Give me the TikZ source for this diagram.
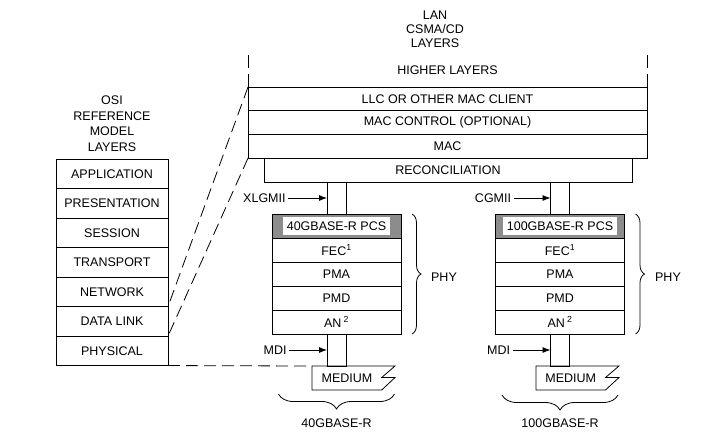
\documentclass[tikz,border=0pt]{standalone}
\usepackage{fontspec}
\setmainfont{Liberation Sans}
\usepackage{tikz}
\usetikzlibrary{calc,positioning,arrows.meta,decorations.pathreplacing}

\begin{document}
\begin{tikzpicture}[x=1pt,y=-1pt,line width=0.8pt,
		font=\fontsize{12.5}{15.5}\selectfont,
		layer/.style={draw,minimum height=24pt,inner sep=0pt,outer sep=0pt},
		osirow/.style={layer,minimum width=112pt,minimum height=29.5pt},
		lanrow/.style={layer,minimum width=399pt,minimum height=23.7pt},
		phyrow/.style={layer,minimum width=129pt},
		pipe/.style={draw,minimum width=19pt,minimum height=32pt,inner sep=0pt,outer sep=0pt},
		lbl/.style={inner sep=2pt},
		dashline/.style={dash pattern=on 12pt off 6pt},
		>={Latex[length=8pt,width=6pt]}]
		
		\useasboundingbox (0,0) rectangle (714,440);
		
		\begin{scope}
			
			\node at (112,123.5)[align=center] (osititle) {OSI\\REFERENCE\\MODEL\\LAYERS};
			
			\node at (112,173.8)[osirow] (app) {APPLICATION};
			\node[osirow,below=0pt of app] (pres) {PRESENTATION};
			\node[osirow,below=0pt of pres] (sess) {SESSION};
			\node[osirow,below=0pt of sess] (trans) {TRANSPORT};
			\node[osirow,below=0pt of trans] (net) {NETWORK};
			\node[osirow,below=0pt of net] (dlink) {DATA LINK};
			\node[osirow,below=0pt of dlink] (phys) {PHYSICAL};
		\end{scope}
		
		\begin{scope}
			
			\node at (435,29)[align=center,font=\fontsize{12.5}{14}\selectfont] (lantitle) {LAN\\CSMA/CD\\LAYERS};
			\node at (447.5,70) (higher) {HIGHER LAYERS};
			
			\node at (447.5,98.85)[lanrow] (llc) {LLC OR OTHER MAC CLIENT};
			\node[lanrow,below=0pt of llc] (macctl) {MAC CONTROL (OPTIONAL)};
			\node[lanrow,below=0pt of macctl] (mac) {MAC};
			\node[layer,minimum width=368pt,below=0pt of mac,xshift=0.5pt] (recon) {RECONCILIATION};
			
			\draw[dash pattern=on 13pt off 6pt] (llc.north west) -- ++(0,-33);
			\draw[dash pattern=on 13pt off 6pt] (llc.north east) -- ++(0,-33);
		\end{scope}
		
		\begin{scope}[xshift=336.5pt,name prefix=a-]
			
			\node at (0,198)[pipe] (mii) {};
			\node[lbl,left=39pt of mii] (miilbl) {XLGMII};
			\draw[->] (miilbl) -- (mii);
			
			\node at (0,226)[phyrow,fill=black!45] (pcs) {};
			\node at (pcs)[fill=white,minimum height=17.5pt,inner xsep=4pt,inner ysep=0pt] (pcstext) {40GBASE-R PCS};
			\node[phyrow,below=0pt of pcs] (fec) {FEC\textsuperscript{1}};
			\node[phyrow,below=0pt of fec] (pma) {PMA};
			\node[phyrow,below=0pt of pma] (pmd) {PMD};
			\node[phyrow,below=0pt of pmd] (an) {AN\,\textsuperscript{2}};
			
			\draw[decorate,decoration={brace,amplitude=9pt}] ($(pcs.north east)+(11,0)$) -- ($(an.south east)+(11,0)$);
			\node at (107.5,277) (phy) {PHY};
			
			\node[pipe,below=0pt of an] (mdi) {};
			\node[lbl,left=38pt of mdi] (mdilbl) {MDI};
			\draw[->] (mdilbl) -- (mdi);
			
			\draw (-24.5,366) coordinate (medtl) -- (58.5,366) -- (45.2,377.5) -- (58.5,377.5) -- (45.2,390) -- (-24.5,390) -- cycle;
			\node at (10.5,378) (medium) {MEDIUM};
			
			\draw[decorate,decoration={brace,amplitude=15pt}] (58,394) -- (-58,394);
			\node at (0,423) (std) {40GBASE-R};
		\end{scope}
		
		\begin{scope}[xshift=560pt,name prefix=b-]
			
			\node at (0,198)[pipe] (mii) {};
			\node[lbl,left=37pt of mii] (miilbl) {CGMII};
			\draw[->] (miilbl) -- (mii);
			
			\node at (0,226)[phyrow,fill=black!45] (pcs) {};
			\node at (pcs)[fill=white,minimum height=17.5pt,inner xsep=4pt,inner ysep=0pt] (pcstext) {100GBASE-R PCS};
			\node[phyrow,below=0pt of pcs] (fec) {FEC\textsuperscript{1}};
			\node[phyrow,below=0pt of fec] (pma) {PMA};
			\node[phyrow,below=0pt of pma] (pmd) {PMD};
			\node[phyrow,below=0pt of pmd] (an) {AN\,\textsuperscript{2}};
			
			\draw[decorate,decoration={brace,amplitude=9pt}] ($(pcs.north east)+(11,0)$) -- ($(an.south east)+(11,0)$);
			\node at (108,277) (phy) {PHY};
			
			\node[pipe,below=0pt of an] (mdi) {};
			\node[lbl,left=38pt of mdi] (mdilbl) {MDI};
			\draw[->] (mdilbl) -- (mdi);
			
			\draw (-24,366) coordinate (medtl) -- (59,366) -- (45.5,377.5) -- (59,377.5) -- (45.5,390) -- (-24,390) -- cycle;
			\node at (10.8,378) (medium) {MEDIUM};
			
			\draw[decorate,decoration={brace,amplitude=15pt}] (58,395) -- (-58,395);
			\node at (0,423) (std) {100GBASE-R};
		\end{scope}
		
		\draw[dashline] (llc.north west) -- (dlink.north east);
		\draw[dashline] (mac.south west) -- (phys.north east);
		\draw[dashline] (phys.south east) -- (a-medtl);
		
	\end{tikzpicture}
\end{document}
